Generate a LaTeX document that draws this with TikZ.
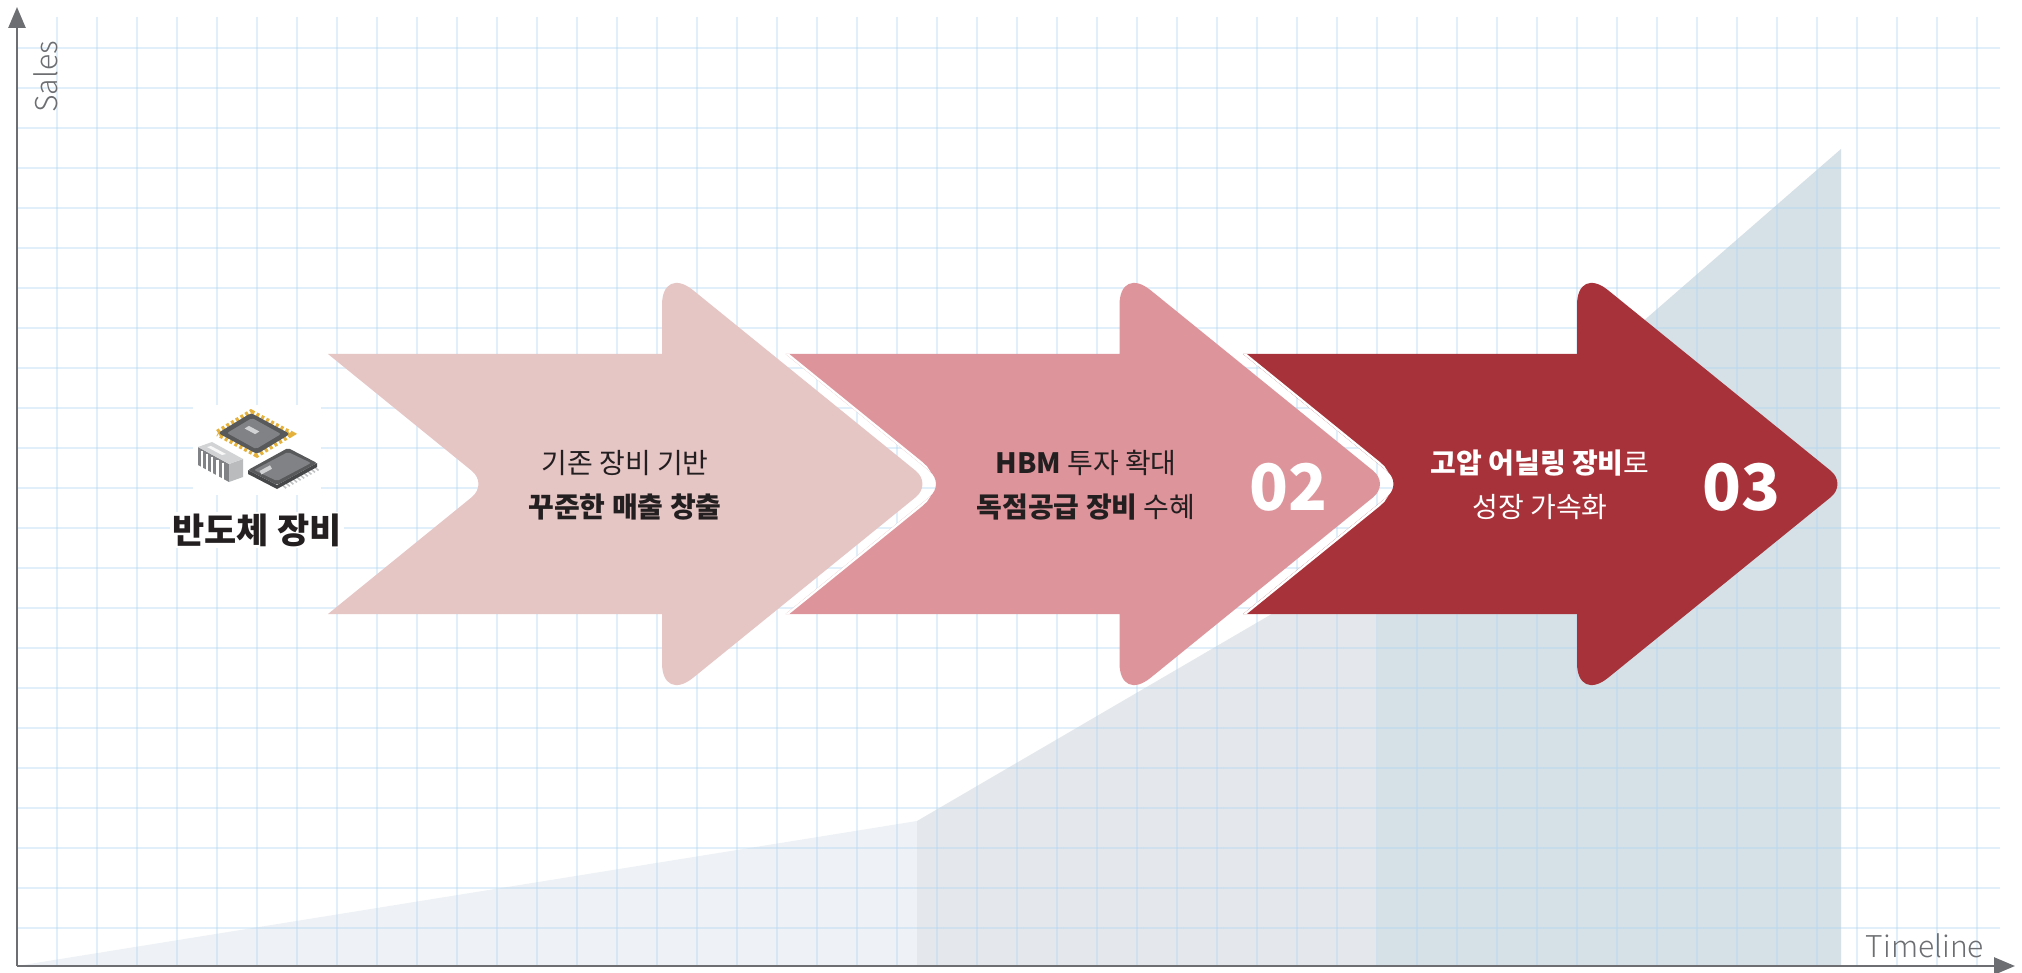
\documentclass[tikz,border=0pt]{standalone}
\usepackage{fontspec}
\setmainfont{Noto Sans CJK KR}
\IfFontExistsTF{Noto Sans CJK KR Light}
  {\newfontfamily\axisfont{Noto Sans CJK KR Light}}
  {\newfontfamily\axisfont{Noto Sans CJK KR}}
\usetikzlibrary{arrows.meta}

\definecolor{axisgray}{HTML}{6D6E71}
\definecolor{gridblue}{HTML}{B3D7F0}
\definecolor{areaone}{HTML}{EEF2F6}
\definecolor{areatwo}{HTML}{E4E8EC}
\definecolor{areathree}{HTML}{D5E0E7}
\definecolor{pinkone}{HTML}{E6C5C5}
\definecolor{pinktwo}{HTML}{DE949B}
\definecolor{wine}{HTML}{A83239}
\definecolor{inkdark}{HTML}{231F20}
\definecolor{chipdark}{HTML}{58595B}
\definecolor{chipmid}{HTML}{808285}
\definecolor{chiplight}{HTML}{D1D3D4}
\definecolor{chipgold}{HTML}{E5B13A}

% one chevron, #1 = x of its left edge
\newcommand{\chevronpath}[1]{(#1,354) [rounded corners=21pt] -- (#1+160,484)
  [sharp corners] -- (#1,614) -- (#1+334,614) [rounded corners=40pt] -- (#1+334,703)
  [rounded corners=21pt] -- (#1+604,484) [rounded corners=40pt] -- (#1+334,265)
  [sharp corners] -- (#1+334,354) -- cycle}

\tikzset{
  gridline/.style={gridblue, line width=1.2pt, opacity=0.4},
  axis/.style={axisgray, line width=2.6pt, -{Triangle[length=21pt,width=17pt]}},
  gap/.style={white, line width=22pt},
  steptext/.style={align=center, font=\fontsize{28}{44}\selectfont},
  stepnum/.style={white, font=\fontsize{64}{64}\selectfont\bfseries},
  axislabel/.style={text=axisgray, font=\axisfont\fontsize{30}{30}\selectfont},
}

\begin{document}
\begin{tikzpicture}[x=1pt, y=-1pt]
\useasboundingbox (0,0) rectangle (2022,973);
\fill[white] (0,0) rectangle (2022,973);

% sales steps under the grid
\fill[areaone] (17,966) -- (917,821) -- (917,966) -- cycle;
\fill[areatwo] (917,966) -- (917,821) -- (1378,552) -- (1378,966) -- cycle;
\fill[areathree] (1378,966) -- (1378,552) -- (1841,149) -- (1841,966) -- cycle;

% grid
\foreach \gx in {57,97,...,1977}
  \draw[gridline] (\gx,17) -- (\gx,966);
\foreach \gy in {48,88,...,928}
  \draw[gridline] (17,\gy) -- (2000,\gy);

% axes
\coordinate (origin) at (17,966);
\coordinate (ytop) at (17,7);
\coordinate (xend) at (2015,966);
\draw[axis] (origin) -- (ytop);
\draw[axis] (origin) -- (xend);
\node[axislabel, rotate=90] (sales) at (46,77) {Sales};
\node[axislabel] (timeline) at (1925,946) {Timeline};

% chevrons, back to front
\fill[wine] \chevronpath{1243};
\begin{scope}
  \clip \chevronpath{1243};
  \draw[gap] \chevronpath{785.5};
\end{scope}
\fill[pinktwo] \chevronpath{785.5};
\begin{scope}
  \clip \chevronpath{785.5};
  \draw[gap] \chevronpath{328};
\end{scope}
\fill[pinkone] \chevronpath{328};

\node[steptext, inkdark] (step1) at (625,485) {기존 장비 기반\\\textbf{꾸준한 매출 창출}};
\node[steptext, inkdark] (step2) at (1086,485) {\textbf{HBM} 투자 확대\\\textbf{독점공급 장비} 수혜};
\node[stepnum] (num2) at (1288,487) {02};
\node[steptext, white] (step3) at (1540,485) {\textbf{고압 어닐링 장비}로\\성장 가속화};
\node[stepnum] (num3) at (1741,487) {03};

% chip icon
\fill[white] (193,405) rectangle (321,495);
% DIP package
\fill[chipmid] (198,447) -- (229,464) -- (229,482) -- (198,465) -- cycle;
\fill[chiplight!70!chipmid] (229,464) -- (243,459) -- (243,477) -- (229,482) -- cycle;
\foreach \t in {0.12,0.29,...,0.9}
  \draw[white, line width=2.2pt] (198+31*\t,449+17*\t) -- (198+31*\t,466+17*\t);
\fill[chiplight] (198,447) -- (212,442) -- (243,459) -- (229,464) -- cycle;
\fill[white!85!chiplight] (207,447) -- (211,446) -- (226,454) -- (222,455) -- cycle;
% square package
\draw[chipgold, line width=7pt, dash pattern=on 3pt off 2.5pt]
  (218,433) -- (251,413) -- (290,434) -- (257,454) -- cycle;
\fill[chipdark, rounded corners=3pt] (218,433) -- (251,413) -- (290,434) -- (257,454) -- cycle;
\fill[chipmid, rounded corners=2pt] (227,433) -- (252,418) -- (281,434) -- (256,449) -- cycle;
\fill[chiplight] (248.9,425.9) -- (259.4,431.5) -- (255.1,434.1) -- (244.6,428.5) -- cycle;
% SOIC package
\foreach \t in {0.08,0.17,...,0.95}
  \draw[chiplight!80!chipmid, line width=1.6pt] (277+40*\t,485-22*\t) -- ++(6,5);
\fill[chipdark!80!black] (248,470) -- (277,485) -- (317,463) -- (317,467) -- (277,489) -- (248,474) -- cycle;
\fill[chipdark, rounded corners=2pt] (248,470) -- (288,448) -- (317,463) -- (277,485) -- cycle;
\fill[chipmid, rounded corners=2pt] (254,470) -- (288,452) -- (311,463) -- (277,481) -- cycle;
\fill[chiplight] (259.5,471) -- (270,465.3) -- (272,468.8) -- (261.5,474.5) -- cycle;

\node[fill=white, text=inkdark, inner sep=2pt, font=\fontsize{35}{35}\selectfont\bfseries] (chiplabel) at (257,530) {반도체 장비};
\end{tikzpicture}
\end{document}
